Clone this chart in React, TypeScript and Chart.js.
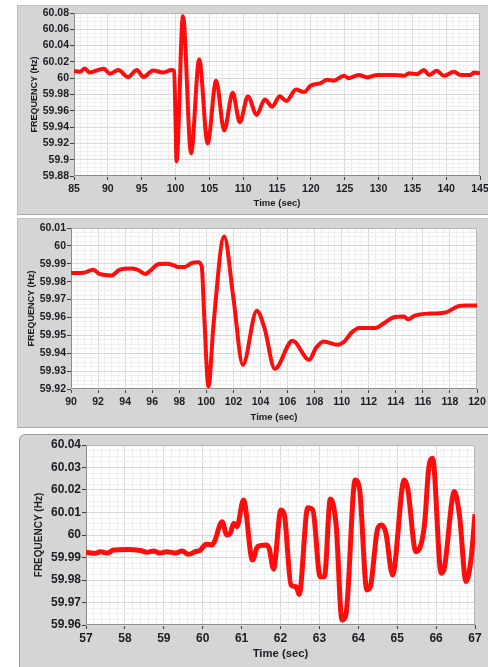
import React, { useEffect, useRef } from "react";
import { Chart, registerables } from "chart.js";

Chart.register(...registerables);

// ---------- Panel 1 : 85–145 s ----------
const time1 = [
  85, 85.9, 86.6, 87.3, 88.35, 89.4, 90.3, 91.55, 93.0, 94.3, 95.25, 96.7, 98.2, 99.4, 99.8,
  100.0, 100.15, 100.3, 101.1, 102.3, 103.5, 104.75, 106.0, 107.2, 108.45, 109.5, 110.7, 112.0,
  113.2, 114.3, 115.4, 116.4, 117.8, 119.0, 120.0, 121.45, 122.4, 123.4, 124.9, 125.6, 127.1,
  128.35, 129.8, 132.3, 133.8, 134.5, 135.7, 136.7, 137.5, 138.6, 139.7, 141.15, 142.1, 143.6,
  144.1, 145,
];
const freq1 = [
  60.009, 60.008, 60.012, 60.007, 60.0095, 60.0115, 60.0055, 60.01, 60.0015, 60.01, 60.0015,
  60.0095, 60.007, 60.01, 60.009, 59.95, 59.898, 59.91, 60.076, 59.908, 60.023, 59.92, 59.997,
  59.936, 59.982, 59.946, 59.9775, 59.955, 59.974, 59.965, 59.978, 59.972, 59.986, 59.983,
  59.991, 59.994, 59.998, 59.997, 60.003, 60.0, 60.004, 60.001, 60.004, 60.004, 60.003, 60.006,
  60.005, 60.01, 60.004, 60.009, 60.003, 60.008, 60.004, 60.004, 60.007, 60.006,
];
const xRange1 = { min: 85, max: 145, major: 5, minor: 1 };
const yRange1 = { min: 59.88, max: 60.08, major: 0.02, minor: 0.005 };

// ---------- Panel 2 : 90–120 s ----------
const time2 = [
  90, 90.9, 91.65, 92.1, 93.0, 93.6, 94.4, 94.9, 95.5, 95.8, 96.5, 97.1, 97.6, 97.9, 98.4, 98.9,
  99.4, 99.66, 99.84, 100.16, 100.53, 101.32, 102.0, 102.7, 103.73, 104.3, 105.06, 106.37, 107.6,
  108.1, 108.66, 109.7, 110.2, 110.7, 111.3, 112.5, 113.15, 113.8, 114.6, 114.9, 115.4, 116.1,
  116.85, 117.7, 118.57, 119.2, 120,
];
const freq2 = [
  59.9848, 59.985, 59.9867, 59.9843, 59.9835, 59.9867, 59.9873, 59.9867, 59.9843, 59.9857,
  59.9899, 59.99, 59.9891, 59.9882, 59.9882, 59.9904, 59.9908, 59.9885, 59.9615, 59.9215,
  59.956, 60.0053, 59.9709, 59.9335, 59.9638, 59.954, 59.9313, 59.947, 59.9364, 59.9429,
  59.9466, 59.9448, 59.9466, 59.9513, 59.9541, 59.9541, 59.9569, 59.96, 59.9605, 59.959,
  59.961, 59.962, 59.9622, 59.9628, 59.9662, 59.9667, 59.9667,
];
const xRange2 = { min: 90, max: 120, major: 2, minor: 0.5 };
const yRange2 = { min: 59.92, max: 60.01, major: 0.01, minor: 0.0025 };

// ---------- Panel 3 : 57–67 s ----------
const time3 = [
  57, 57.24, 57.37, 57.54, 57.71, 58.05, 58.4, 58.57, 58.74, 58.89, 59.08, 59.3, 59.47, 59.64,
  59.81, 59.94, 60.09, 60.24, 60.3, 60.5, 60.62, 60.71, 60.8, 60.88, 61.05, 61.28, 61.41, 61.63,
  61.71, 61.82, 62.01, 62.1, 62.27, 62.4, 62.48, 62.7, 62.83, 63.02, 63.13, 63.28, 63.43, 63.58,
  63.68, 63.92, 64.03, 64.22, 64.31, 64.5, 64.6, 64.71, 64.88, 65.18, 65.27, 65.48, 65.7, 65.81,
  65.91, 66.13, 66.21, 66.47, 66.6, 66.77, 66.9, 67,
];
const freq3 = [
  59.9923, 59.9919, 59.9926, 59.992, 59.9933, 59.9936, 59.9931, 59.9923, 59.9929, 59.992,
  59.9926, 59.992, 59.9929, 59.9914, 59.9926, 59.9933, 59.9959, 59.9956, 59.997, 60.0059, 60.0,
  60.0008, 60.0052, 60.0037, 60.0156, 59.9889, 59.9948, 59.9956, 59.994, 59.9849, 60.0111,
  60.0089, 59.9778, 59.977, 59.9736, 60.0121, 60.0111, 59.9815, 59.9815, 60.016, 60.0044,
  59.9622, 59.9644, 60.0244, 60.0207, 59.9756, 59.977, 60.003, 60.0044, 60.0008, 59.9822,
  60.0244, 60.0207, 59.9926, 60.0044, 60.0296, 60.0341, 59.983, 59.9852, 60.0193, 60.0089,
  59.9793, 59.9896, 60.0092,
];
const xRange3 = { min: 57, max: 67, major: 1, minor: 0.2 };
const yRange3 = { min: 59.96, max: 60.04, major: 0.01, minor: 0.0025 };

const xTitle = "Time (sec)";
const yTitle = "FREQUENCY (Hz)";

const FONT = "'Liberation Sans', Arial, sans-serif";
const TEXT = "#1c1c22";

type Box = { left: number; top: number; width: number; height: number };
type Plot = { left: number; top: number; right: number; bottom: number };
type Range = { min: number; max: number; major: number; minor: number };
type PanelProps = {
  frame: Box;
  plot: Plot;
  t: number[];
  f: number[];
  xr: Range;
  yr: Range;
  tickFont: number;
  xTitleFont: number;
  yTitleFont: number;
  xTickPad: number;
  xTitlePad: number;
  yTitlePad: number;
  lineWidth: number;
  rounded?: boolean;
};

const isMajor = (v: number, step: number) => Math.abs(v / step - Math.round(v / step)) < 1e-6;
const fmt = (v: number) => String(parseFloat(Number(v).toFixed(4)));

const plotBg = {
  id: "plotBg",
  beforeDraw(chart: any) {
    const { ctx, chartArea: a } = chart;
    ctx.save();
    ctx.fillStyle = "#ffffff";
    ctx.fillRect(a.left, a.top, a.right - a.left, a.bottom - a.top);
    ctx.restore();
  },
  beforeDatasetsDraw(chart: any) {
    const { ctx, chartArea: a } = chart;
    ctx.save();
    ctx.lineWidth = 1;
    ctx.strokeStyle = "#b4b4b4";
    ctx.beginPath();
    ctx.moveTo(a.left, a.top + 0.5);
    ctx.lineTo(a.right - 0.5, a.top + 0.5);
    ctx.lineTo(a.right - 0.5, a.bottom);
    ctx.stroke();
    ctx.strokeStyle = "#8c8c8c";
    ctx.beginPath();
    ctx.moveTo(a.left + 0.5, a.top);
    ctx.lineTo(a.left + 0.5, a.bottom - 0.5);
    ctx.lineTo(a.right, a.bottom - 0.5);
    ctx.stroke();
    ctx.restore();
  },
};

function Panel(p: PanelProps) {
  const ref = useRef<HTMLCanvasElement | null>(null);
  useEffect(() => {
    if (!ref.current) return;
    const frameRight = p.frame.left + p.frame.width;
    const frameBottom = p.frame.top + p.frame.height;
    const gridColor = (step: number) => (ctx: any) =>
      ctx.tick && isMajor(ctx.tick.value, step) ? "#d9d9d9" : "#efefef";
    const tickColor = (step: number) => (ctx: any) =>
      ctx.tick && isMajor(ctx.tick.value, step) ? "#404040" : "rgba(0,0,0,0)";
    const chart = new Chart(ref.current, {
      type: "line",
      data: {
        datasets: [
          {
            data: p.t.map((x, i) => ({ x, y: p.f[i] })),
            borderColor: "#ff0c0c",
            borderWidth: p.lineWidth,
            pointRadius: 0,
            cubicInterpolationMode: "monotone",
            fill: false,
          },
        ],
      },
      options: {
        animation: false,
        responsive: false,
        events: [],
        layout: {
          padding: {
            left: 0,
            top: p.plot.top - p.frame.top,
            right: frameRight - p.plot.right,
            bottom: 0,
          },
        },
        plugins: { legend: { display: false }, tooltip: { enabled: false } },
        scales: {
          x: {
            type: "linear",
            min: p.xr.min,
            max: p.xr.max,
            ticks: {
              stepSize: p.xr.minor,
              autoSkip: false,
              maxRotation: 0,
              minRotation: 0,
              padding: p.xTickPad,
              color: TEXT,
              font: { family: FONT, size: p.tickFont, weight: "bold" },
              callback: (v: any) => (isMajor(Number(v), p.xr.major) ? fmt(Number(v)) : ""),
            },
            grid: {
              color: gridColor(p.xr.major),
              tickColor: tickColor(p.xr.major),
              tickLength: 4,
              lineWidth: 1,
            },
            border: { display: false },
            title: {
              display: true,
              text: xTitle,
              color: TEXT,
              font: { family: FONT, size: p.xTitleFont, weight: "bold" },
              padding: { top: 0, bottom: p.xTitlePad },
            },
            afterFit: (s: any) => {
              s.height = frameBottom - p.plot.bottom;
              s.paddingLeft = 0;
              s.paddingRight = 0;
            },
          },
          y: {
            type: "linear",
            min: p.yr.min,
            max: p.yr.max,
            ticks: {
              stepSize: p.yr.minor,
              autoSkip: false,
              padding: 1,
              color: TEXT,
              font: { family: FONT, size: p.tickFont, weight: "bold" },
              callback: (v: any) => (isMajor(Number(v), p.yr.major) ? fmt(Number(v)) : ""),
            },
            grid: {
              color: gridColor(p.yr.major),
              tickColor: tickColor(p.yr.major),
              tickLength: 4,
              lineWidth: 1,
            },
            border: { display: false },
            title: {
              display: true,
              text: yTitle,
              color: TEXT,
              font: { family: FONT, size: p.yTitleFont, weight: "bold" },
              padding: { top: p.yTitlePad, bottom: 0 },
            },
            afterFit: (s: any) => {
              s.width = p.plot.left - p.frame.left;
              s.paddingTop = 0;
              s.paddingBottom = 0;
            },
          },
        },
      } as any,
      plugins: [plotBg],
    });
    return () => chart.destroy();
  }, []);

  return (
    <div
      style={{
        position: "absolute",
        left: p.frame.left,
        top: p.frame.top,
        width: p.frame.width,
        height: p.frame.height,
        background: "#d5d5d5",
        boxSizing: "border-box",
        borderTopLeftRadius: p.rounded ? 6 : 0,
        overflow: "hidden",
      }}
    >
      <div
        style={{
          position: "absolute",
          inset: 0,
          boxSizing: "border-box",
          borderLeft: "1px solid " + (p.rounded ? "#9a9a9a" : "#bcbcbc"),
          borderTop: "1px solid " + (p.rounded ? "#9a9a9a" : "#c4c4c4"),
          borderBottom: p.rounded ? "none" : "1px solid #a8a8a8",
          borderTopLeftRadius: p.rounded ? 6 : 0,
        }}
      />
      <canvas
        ref={ref}
        width={p.frame.width}
        height={p.frame.height}
        style={{ position: "absolute", left: 0, top: 0, width: p.frame.width, height: p.frame.height }}
      />
    </div>
  );
}

export default function App() {
  return (
    <div
      style={{
        position: "fixed",
        left: 0,
        top: 0,
        width: 488,
        height: 667,
        background: "#ffffff",
        overflow: "hidden",
      }}
    >
      <Panel
        frame={{ left: 17, top: 5, width: 471, height: 210 }}
        plot={{ left: 74, top: 13, right: 480, bottom: 176 }}
        t={time1}
        f={freq1}
        xr={xRange1}
        yr={yRange1}
        tickFont={10.5}
        xTitleFont={9.5}
        yTitleFont={9}
        xTickPad={3}
        xTitlePad={6}
        yTitlePad={12.5}
        lineWidth={4}
      />
      <Panel
        frame={{ left: 17, top: 218, width: 471, height: 210 }}
        plot={{ left: 71, top: 228, right: 477, bottom: 389 }}
        t={time2}
        f={freq2}
        xr={xRange2}
        yr={yRange2}
        tickFont={10.5}
        xTitleFont={9.5}
        yTitleFont={9}
        xTickPad={3}
        xTitlePad={5}
        yTitlePad={9.5}
        lineWidth={4}
      />
      <Panel
        frame={{ left: 19, top: 434, width: 469, height: 233 }}
        plot={{ left: 86, top: 445, right: 475, bottom: 625 }}
        t={time3}
        f={freq3}
        xr={xRange3}
        yr={yRange3}
        tickFont={12}
        xTitleFont={11.3}
        yTitleFont={10}
        xTickPad={2}
        xTitlePad={6}
        yTitlePad={14}
        lineWidth={5}
        rounded
      />
    </div>
  );
}
